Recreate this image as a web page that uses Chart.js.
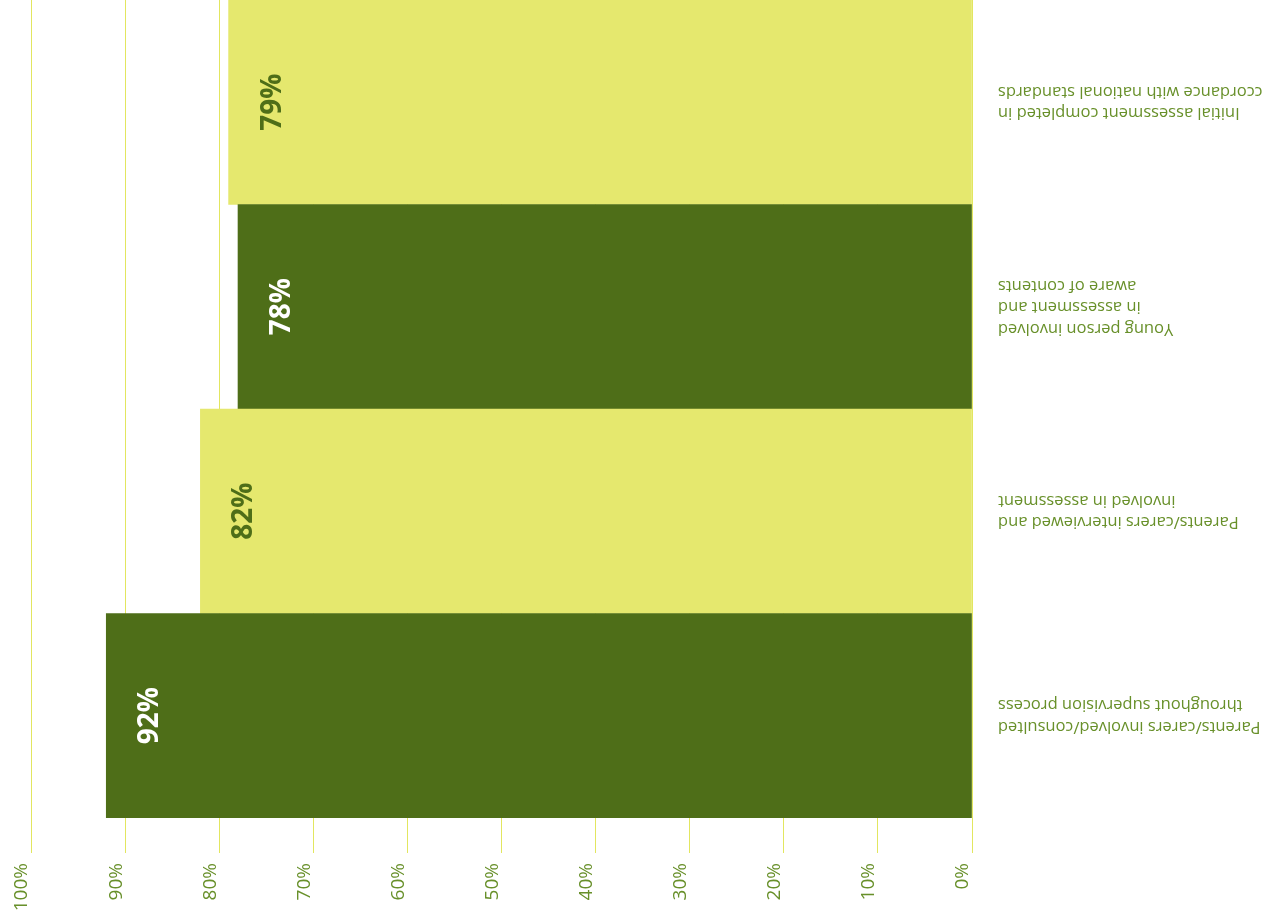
<!DOCTYPE html>
<html>
<head>
<meta charset="utf-8">
<script src="https://cdn.jsdelivr.net/npm/chart.js@4/dist/chart.umd.min.js"></script>
<style>
  html, body { margin: 0; padding: 0; background: #fff; }
  #chart { display: block; }
</style>
</head>
<body>
<canvas id="chart" width="1262" height="923"></canvas>
<script>
// categories, top to bottom (labels are drawn upside down like the original)
const categories = [
  ['Initial assessment completed in', 'accordance with national standards'],
  ['Young person involved', 'in assessment and', 'aware of contents'],
  ['Parents/carers interviewed and', 'involved in assessment'],
  ['Parents/carers involved/consulted', 'throughout supervision process'],
];
const values = [79, 78, 82, 92];
const tickValues = [0, 10, 20, 30, 40, 50, 60, 70, 80, 90, 100];

const LIGHT = '#e5e86e';
const DARK = '#4e6e18';
const TEXT = '#68902a';
const GRID = '#e2e660';

const barColors = values.map((v, i) => (i % 2 === 0 ? LIGHT : DARK));
const labelColors = values.map((v, i) => (i % 2 === 0 ? DARK : '#ffffff'));

// value labels, rotated, sitting inside the bar end
const valueLabels = {
  id: 'valueLabels',
  afterDatasetsDraw(chart) {
    const { ctx } = chart;
    const meta = chart.getDatasetMeta(0);
    ctx.save();
    ctx.font = 'bold 28px "Open Sans", sans-serif';
    ctx.textAlign = 'center';
    ctx.textBaseline = 'middle';
    meta.data.forEach((bar, i) => {
      ctx.save();
      ctx.translate(bar.x + 44, bar.y);
      ctx.rotate(-Math.PI / 2);
      ctx.fillStyle = labelColors[i];
      ctx.fillText(values[i] + '%', 0, 0);
      ctx.restore();
    });
    ctx.restore();
  },
};

// category labels on the right, turned upside down
const categoryLabels = {
  id: 'categoryLabels',
  afterDraw(chart) {
    const { ctx, chartArea } = chart;
    const y = chart.scales.y;
    const lh = 21.5;
    ctx.save();
    ctx.font = '16.5px "Open Sans", sans-serif';
    ctx.fillStyle = TEXT;
    ctx.textAlign = 'right';
    ctx.textBaseline = 'middle';
    categories.forEach((lines, i) => {
      ctx.save();
      ctx.translate(chartArea.right + 26, y.getPixelForTick(i));
      ctx.rotate(Math.PI);
      lines.forEach((line, j) => {
        ctx.fillText(line, 0, (j - (lines.length - 1) / 2) * lh);
      });
      ctx.restore();
    });
    ctx.restore();
  },
};

new Chart(document.getElementById('chart'), {
  type: 'bar',
  data: {
    labels: categories,
    datasets: [{
      data: values,
      backgroundColor: barColors,
      borderWidth: 0,
      barPercentage: 1,
      categoryPercentage: 1,
    }],
  },
  options: {
    indexAxis: 'y',
    responsive: false,
    animation: false,
    devicePixelRatio: 1,
    layout: { padding: { left: 31, top: 0, right: 0, bottom: 0 } },
    plugins: {
      legend: { display: false },
      tooltip: { enabled: false },
    },
    scales: {
      x: {
        position: 'bottom',
        reverse: true,
        min: 0,
        max: 100,
        afterBuildTicks: (scale) => {
          scale.ticks = tickValues.map((v) => ({ value: v }));
        },
        afterFit: (scale) => { scale.height = 105; },
        border: { display: false },
        grid: { color: GRID, tickColor: GRID, lineWidth: 1, tickWidth: 1, tickLength: 35 },
        ticks: {
          color: TEXT,
          font: { family: '"Open Sans", sans-serif', size: 19 },
          minRotation: 90,
          maxRotation: 90,
          padding: 10,
          labelOffset: -9,
          callback: (v) => v + '%',
        },
      },
      y: {
        position: 'right',
        afterFit: (scale) => { scale.width = 290; },
        border: { display: false },
        grid: { display: false },
        ticks: { display: false },
      },
    },
  },
  plugins: [valueLabels, categoryLabels],
});
</script>
</body>
</html>
